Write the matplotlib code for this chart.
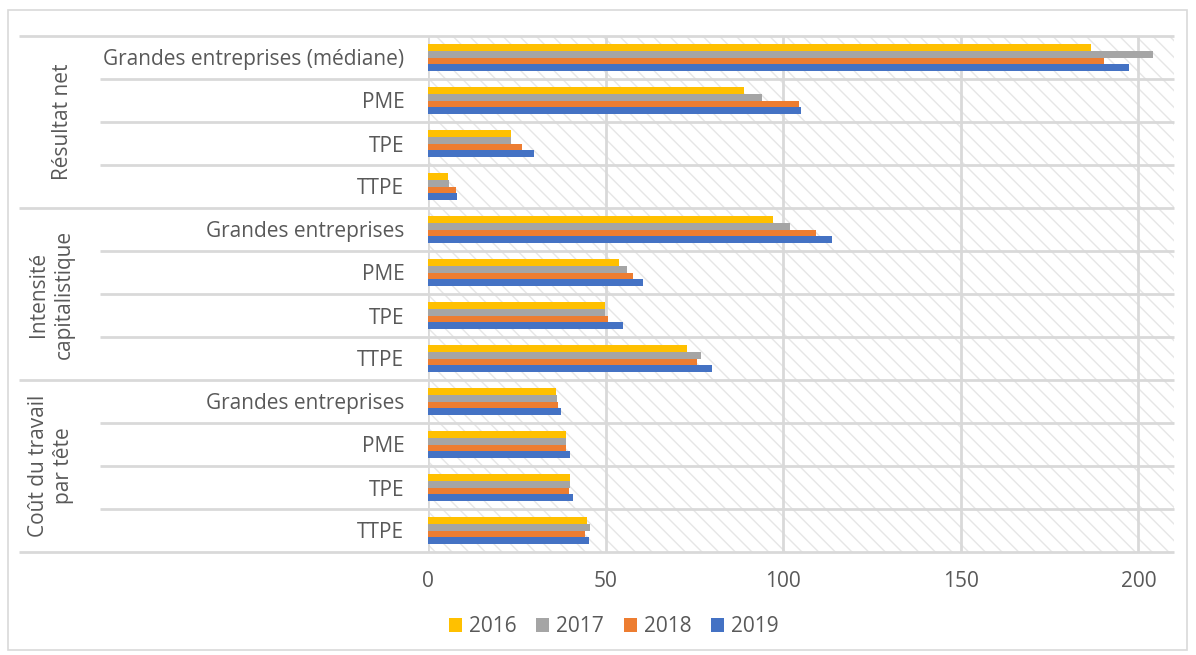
import numpy as np
import matplotlib.pyplot as plt
from matplotlib.patches import Rectangle

plt.rcParams['font.family'] = ['Open Sans', 'DejaVu Sans']

# categories top to bottom
categories = ['Grandes entreprises (médiane)', 'PME', 'TPE', 'TTPE',
              'Grandes entreprises', 'PME', 'TPE', 'TTPE',
              'Grandes entreprises', 'PME', 'TPE', 'TTPE']
groups = ['Résultat net', 'Intensité\ncapitalistique', 'Coût du travail\npar tête']
years = ['2016', '2017', '2018', '2019']
colors = ['#FFC000', '#A5A5A5', '#ED7D31', '#4472C4']

v2016 = [186.5, 89.0, 23.3, 5.6, 97.1, 53.9, 49.7, 73.0, 36.1, 38.8, 40.1, 44.7]
v2017 = [204.0, 94.1, 23.3, 5.9, 101.9, 56.1, 49.7, 76.9, 36.2, 38.8, 40.1, 45.5]
v2018 = [190.3, 104.5, 26.6, 7.9, 109.3, 57.6, 50.6, 75.6, 36.6, 38.9, 39.6, 44.2]
v2019 = [197.3, 105.0, 29.8, 8.3, 113.8, 60.4, 54.8, 79.9, 37.4, 39.9, 40.7, 45.3]
series = [v2016, v2017, v2018, v2019]

grid_col = '#D9D9D9'
text_col = '#595959'
fs = 15

W, H = 1196, 655
fig = plt.figure(figsize=(W / 100, H / 100), dpi=100)
fig.add_artist(Rectangle((8 / W, 5 / H), 1179 / W, 640 / H,
                         transform=fig.transFigure, fill=False,
                         edgecolor=grid_col, lw=1.2))

ax = fig.add_axes([428 / W, 103 / H, 746 / W, 516 / H])

# hatched plot area background
ax.add_patch(Rectangle((0, 0), 1, 1, transform=ax.transAxes, facecolor='white',
                       hatch='\\\\', edgecolor='#E6E6E6', lw=0, zorder=0))

y = np.arange(len(categories))
bh = 0.625 / 4
for i, (vals, c, yr) in enumerate(zip(series, colors, years)):
    ax.barh(y - 0.3125 + bh * (i + 0.5), vals, height=bh, color=c, label=yr, zorder=3)

ax.set_xlim(0, 210)
ax.set_ylim(len(categories) - 0.5, -0.5)
ax.set_xticks([0, 50, 100, 150, 200])
ax.set_yticks(y)
ax.set_yticklabels(categories)
ax.tick_params(axis='y', length=0, pad=17, labelsize=fs, labelcolor=text_col)
ax.tick_params(axis='x', length=0, pad=14, labelsize=fs, labelcolor=text_col)

for s in ax.spines.values():
    s.set_visible(False)

# vertical grid
for xv in [0, 50, 100, 150, 200]:
    ax.axvline(xv, color=grid_col, lw=2, zorder=1)

# row separators, longer ones between groups
ytr = ax.get_yaxis_transform()
for k in range(len(categories) + 1):
    yb = k - 0.5
    x0 = -0.548 if k % 4 == 0 else -0.4397
    ax.plot([x0, 1], [yb, yb], transform=ytr, color=grid_col, lw=2,
            clip_on=False, zorder=1, solid_capstyle='butt')

for g, name in enumerate(groups):
    xg = (62 - 428) / 746 if '\n' not in name else (51 - 428) / 746
    ax.text(xg, g * 4 + 1.5, name, transform=ytr, rotation=90,
            ha='center', va='center', multialignment='center',
            fontsize=fs, color=text_col, linespacing=1.3)

leg = fig.legend(loc='center left', bbox_to_anchor=(449 / W, (H - 627) / H),
                 ncol=4, frameon=False, fontsize=fs, borderpad=0, borderaxespad=0,
                 handlelength=0.62, handleheight=0.62, handletextpad=0.33,
                 columnspacing=0.96, labelcolor=text_col)

fig.savefig('out.png', dpi=100)
